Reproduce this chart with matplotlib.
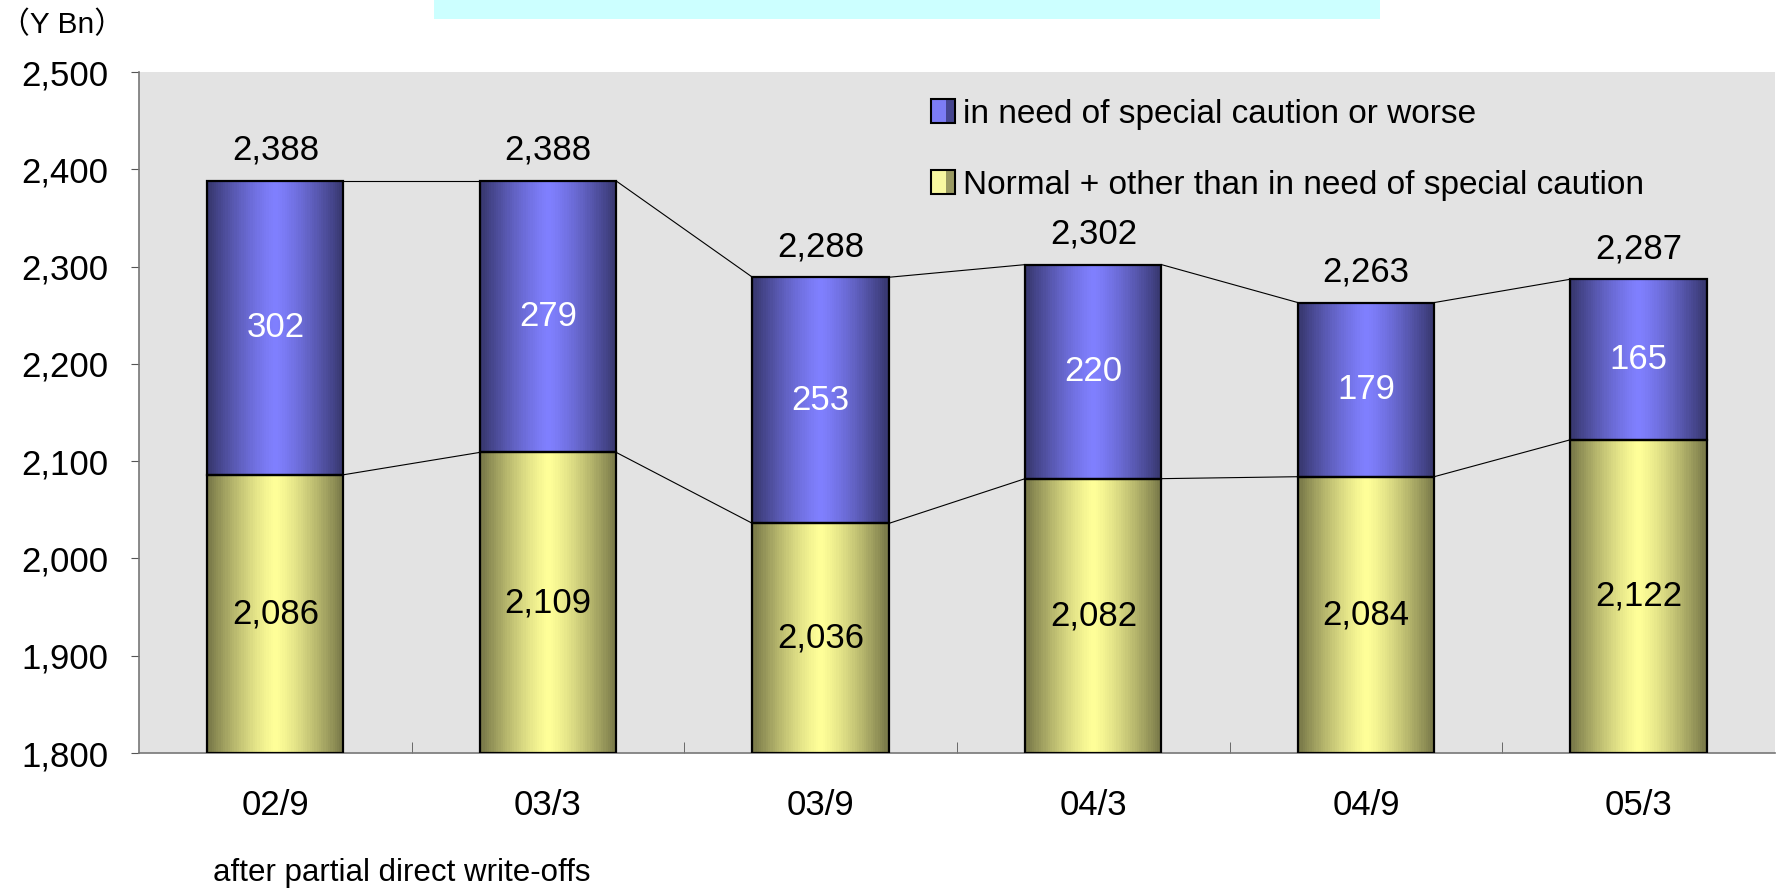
import numpy as np
import matplotlib
matplotlib.use("Agg")
import matplotlib.pyplot as plt
from matplotlib.patches import Rectangle, Patch

plt.rcParams['font.family'] = ['Liberation Sans', 'Noto Sans CJK JP', 'DejaVu Sans']

# data
periods = ['02/9', '03/3', '03/9', '04/3', '04/9', '05/3']
normal = [2086, 2109, 2036, 2082, 2084, 2122]
caution = [302, 279, 253, 220, 179, 165]
totals = [2388, 2388, 2288, 2302, 2263, 2287]
label_caution = 'in need of special caution or worse'
label_normal = 'Normal + other than in need of special caution'

y_min, y_max = 1800, 2500
bar_w = 0.5


def gradient(edge, center, n=60):
    # dark edges, bright middle
    t = np.abs(np.linspace(-1, 1, n)) ** 1.3
    edge = np.array(edge) / 255
    center = np.array(center) / 255
    return (center[None, :] * (1 - t[:, None]) + edge[None, :] * t[:, None])[None, :, :]


grad_blue = gradient((55, 55, 110), (128, 128, 255))
grad_yel = gradient((120, 120, 72), (255, 255, 153))


class StripeHandler:
    # small legend box with a light left part and a darker right stripe
    def __init__(self, light, dark):
        self.light, self.dark = light, dark

    def legend_artist(self, legend, orig_handle, fontsize, handlebox):
        x0, y0 = handlebox.xdescent, handlebox.ydescent
        w, h = handlebox.width, handlebox.height
        t = handlebox.get_transform()
        handlebox.add_artist(Rectangle((-x0, -y0), w * 0.62, h,
                                       facecolor=self.light, edgecolor='none', transform=t))
        handlebox.add_artist(Rectangle((-x0 + w * 0.62, -y0), w * 0.38, h,
                                       facecolor=self.dark, edgecolor='none', transform=t))
        box = Rectangle((-x0, -y0), w, h, fill=False, edgecolor='black', lw=1.5, transform=t)
        handlebox.add_artist(box)
        return box


fig = plt.figure(figsize=(17.81, 8.88), dpi=100)
ax = fig.add_axes([139 / 1781, 1 - 753 / 888, 1636 / 1781, 681 / 888])
ax.set_facecolor('#e3e3e3')

x = np.arange(len(periods))
for i in x:
    b0, b1 = normal[i], normal[i] + caution[i]
    for lo, hi, g in [(y_min, b0, grad_yel), (b0, b1, grad_blue)]:
        ax.imshow(g, extent=(i - bar_w / 2, i + bar_w / 2, lo, hi), aspect='auto',
                  interpolation='nearest', zorder=2)
        ax.add_patch(Rectangle((i - bar_w / 2, lo), bar_w, hi - lo, fill=False,
                               edgecolor='black', lw=1.6, zorder=3))
    ax.text(i, (y_min + b0) / 2, f'{normal[i]:,}', ha='center', va='center',
            fontsize=25, color='black', zorder=4)
    ax.text(i, (b0 + b1) / 2, f'{caution[i]:,}', ha='center', va='center',
            fontsize=25, color='white', zorder=4)
    ax.annotate(f'{totals[i]:,}', (i, b1), xytext=(0, 22), textcoords='offset points',
                ha='center', va='center', fontsize=25)

# connector lines between bars
for i in x[:-1]:
    for a, b in [(normal[i], normal[i + 1]),
                 (normal[i] + caution[i], normal[i + 1] + caution[i + 1])]:
        ax.plot([i + bar_w / 2, i + 1 - bar_w / 2], [a, b], color='black', lw=0.8, zorder=1)

ax.set_xlim(-0.5, len(periods) - 0.5)
ax.set_ylim(y_min, y_max)
ax.set_yticks(np.arange(y_min, y_max + 1, 100))
ax.yaxis.set_major_formatter(matplotlib.ticker.FuncFormatter(lambda v, p: f'{int(v):,}'))
ax.set_xticks(x)
ax.set_xticklabels(periods)
ax.set_xticks(np.arange(0.5, len(periods) - 0.5, 1), minor=True)
ax.tick_params(axis='x', which='major', length=0, pad=26, labelsize=25)
ax.tick_params(axis='x', which='minor', direction='in', length=8, color='#555555')
ax.tick_params(axis='y', direction='out', length=6, pad=16, labelsize=25, color='#555555')
for s in ['top', 'right']:
    ax.spines[s].set_visible(False)
for s in ['left', 'bottom']:
    ax.spines[s].set_color('#777777')
    ax.spines[s].set_linewidth(1.2)

h_blue, h_yel = Patch(), Patch()
ax.legend([h_blue, h_yel], [label_caution, label_normal], loc='upper left',
          bbox_to_anchor=(0.466, 1.005), frameon=False, fontsize=24,
          handlelength=0.7, handleheight=0.7, handletextpad=0.25, labelspacing=1.2,
          handler_map={h_blue: StripeHandler('#7c7cf5', '#45458f'),
                       h_yel: StripeHandler('#f8f8a0', '#9a9a62')})

# title banner (cut off at the top of the image)
fig.patches.append(Rectangle((434 / 1781, 1 - 19 / 888), (1380 - 434) / 1781, 19 / 888,
                             transform=fig.transFigure, facecolor='#ccffff', edgecolor='none'))

fig.text(0.0, 1 - 25 / 888, '（Y Bn）', fontsize=21.5, va='center', ha='left')
fig.text(213 / 1781, 1 - 873 / 888, 'after partial direct write-offs', fontsize=22.5,
         va='center', ha='left')

fig.savefig('out.png', dpi=100)
